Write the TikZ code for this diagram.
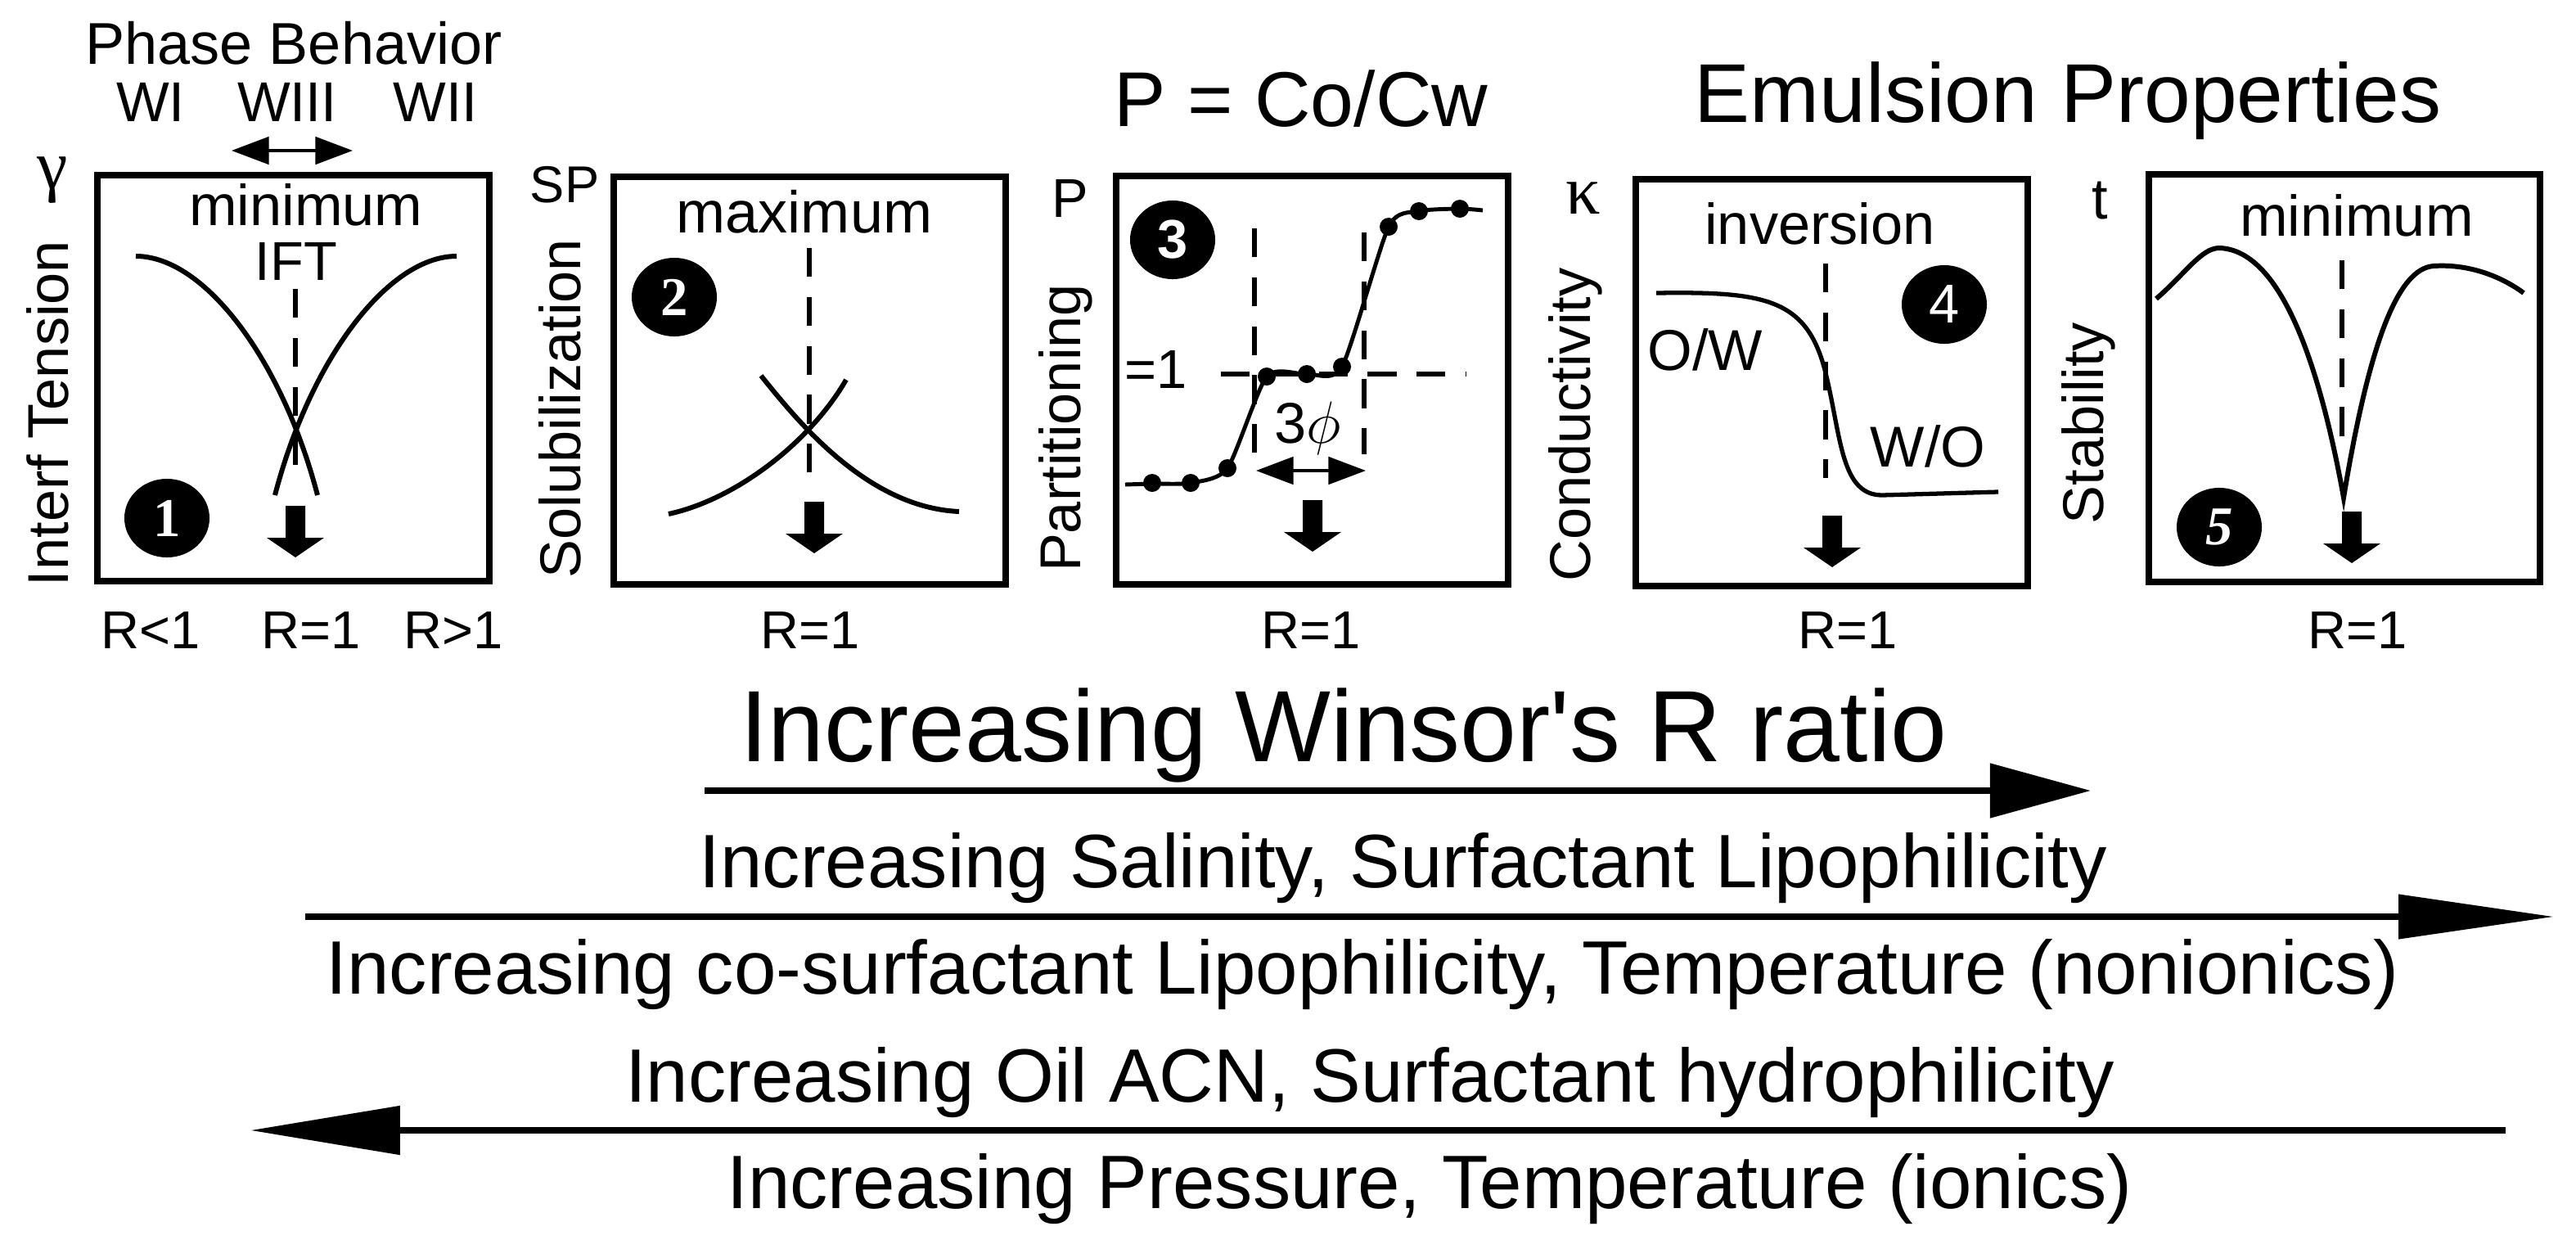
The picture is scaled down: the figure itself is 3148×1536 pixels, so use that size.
\documentclass[tikz,border=0pt]{standalone}
\usepackage{fontspec}
\setmainfont{Liberation Sans}
\newfontfamily\seriffont{Liberation Serif}
\usetikzlibrary{arrows.meta,shapes.geometric}
\tikzset{
  box/.style={line width=2.3pt},
  curve/.style={line width=1.7pt},
  dashline/.style={line width=1.9pt, dash pattern=on 10pt off 7pt},
  lbl/.style={font=\fontsize{20}{24}\selectfont, anchor=base},
  rlbl/.style={font=\fontsize{18.5}{22}\selectfont, anchor=base},
  axlbl/.style={font=\fontsize{20}{24}\selectfont, rotate=90},
  badge/.style={ellipse, fill=black, text=white, minimum width=1.04cm, minimum height=0.96cm, inner sep=0pt},
  bigtext/.style={font=\fontsize{26.3}{30}\selectfont, anchor=base},
  dbl/.style={line width=1.1pt, {Triangle[length=13pt,width=9.5pt]}-{Triangle[length=13pt,width=9.5pt]}},
  bigarrow/.style={line width=2.3pt}
}
\begin{document}
\begin{tikzpicture}[x=0.01cm,y=-0.01cm]
\useasboundingbox (0,0) rectangle (3148,1536);

\draw[box] (119,214) rectangle (598,710);
\draw[box] (750,216) rectangle (1229,714);
\draw[box] (1364,215) rectangle (1843,714);
\draw[box] (1999,219) rectangle (2478,716);
\draw[box] (2626,213) rectangle (3104,711);

% panel 1
\node[lbl, font=\fontsize{20.5}{24}\selectfont] (phase) at (359,78) {Phase Behavior};
\node[lbl, font=\fontsize{19.5}{24}\selectfont] (wone) at (184,148) {WI};
\node[lbl, font=\fontsize{19.5}{24}\selectfont] (wthree) at (351,148) {WIII};
\node[lbl, font=\fontsize{19.5}{24}\selectfont] (wtwo) at (532,148) {WII};
\coordinate (pa) at (283,184);
\coordinate (pb) at (431,184);
\draw[dbl] (pa) -- (pb);
\node[font=\seriffont\fontsize{24}{28}\selectfont] (gam) at (64,220) {γ};
\node[lbl] (minone) at (374,275) {minimum};
\node[lbl, font=\fontsize{19}{24}\selectfont] (ift) at (362,342) {IFT};
\draw[curve] (166,313) .. controls (250,313) and (345,440) .. (388,605);
\draw[curve] (558,313) .. controls (474,313) and (379,440) .. (336,605);
\draw[dashline] (361,353) -- (361,579);
\node[axlbl] (itf) at (58,505) {Interf Tension};
\node[rlbl] (rlt) at (184,792) {R<1};
\node[rlbl] (rone) at (380,792) {R=1};
\node[rlbl] (rgt) at (554,792) {R>1};

% panel 2
\node[font=\fontsize{18}{22}\selectfont] (sp) at (690,226) {SP};
\node[lbl, font=\fontsize{20.5}{24}\selectfont] (maxi) at (983,284) {maximum};
\draw[curve] (817,628) .. controls (900,610) and (990,540) .. (1034,464);
\draw[curve] (930,459) .. controls (975,515) and (1060,620) .. (1172,625);
\draw[dashline] (989,303) -- (989,596);
\node[axlbl] (sol) at (684,499) {Solubilization};

% panel 3
\node[lbl, font=\fontsize{27}{32}\selectfont] (pco) at (1590,154) {P = Co/Cw};
\node[font=\fontsize{19}{22}\selectfont] (pp) at (1308,243) {P};
\node[lbl, font=\fontsize{19}{24}\selectfont] (eqone) at (1413,474) {=1};
\draw[dashline] (1492,457) -- (1792,457);
\draw[dashline] (1533,279) -- (1533,553);
\draw[dashline] (1667,284) -- (1667,555);
\draw[line width=1.4pt] plot[smooth, tension=0.4] coordinates {(1375,592) (1408,591) (1455,590) (1500,572) (1548,460) (1597,457) (1640,448) (1697,277) (1734,258) (1784,255) (1812,257)};
\foreach \dx/\dy in {1408/590, 1455/590, 1500/572, 1548/460, 1597/457, 1640/448, 1697/277, 1734/258, 1784/255}
  \fill (\dx,\dy) circle (11);
\node[lbl] (thphi) at (1598,541) {3$\phi$};
\coordinate (ta) at (1535,575);
\coordinate (tb) at (1669,575);
\draw[dbl] (ta) -- (tb);
\node[axlbl] (par) at (1302,523) {Partitioning};

% panel 4
\node[lbl, font=\fontsize{29}{34}\selectfont] (emul) at (2527,149) {Emulsion Properties};
\node[font=\seriffont\fontsize{24}{28}\selectfont] (kap) at (1935,242) {κ};
\node[lbl] (inv) at (2224,298) {inversion};
\draw[curve, line width=1.5pt] (2024,358) .. controls (2160,356) and (2210,365) .. (2232,460)
  .. controls (2250,535) and (2250,605) .. (2300,605) -- (2442,601);
\draw[dashline] (2231,322) -- (2231,584);
\node[lbl] (ow) at (2084,452) {O/W};
\node[lbl] (wo) at (2356,570) {W/O};
\node[axlbl] (con) at (1925,519) {Conductivity};

% panel 5
\node[font=\fontsize{20}{24}\selectfont] (tt) at (2566,245) {t};
\node[lbl] (minfive) at (2880,288) {minimum};
\draw[curve] (2635,365) .. controls (2670,335) and (2690,303) .. (2712,303)
  .. controls (2780,305) and (2830,420) .. (2864,608)
  .. controls (2895,420) and (2930,328) .. (2974,325)
  .. controls (3020,322) and (3060,340) .. (3084,358);
\draw[dashline] (2862,318) -- (2862,543);
\node[axlbl] (sta) at (2552,517) {Stability};

\foreach \rx [count=\k] in {990,1602,2258,2881}
  \node[rlbl] (req\k) at (\rx,792) {R=1};

\foreach \ax/\ay in {361/618, 995/613, 1604/611, 2239/630, 2874/625}
  \fill (\ax-12,\ay) -- (\ax+12,\ay) -- (\ax+12,\ay+39) -- (\ax+35,\ay+39)
    -- (\ax,\ay+63) -- (\ax-35,\ay+39) -- (\ax-12,\ay+39) -- cycle;

\node[badge, font=\seriffont\bfseries\fontsize{19}{20}\selectfont] (n1) at (204,633) {1};
\node[badge, font=\seriffont\bfseries\fontsize{19}{20}\selectfont] (n2) at (824,363) {2};
\node[badge, font=\bfseries\fontsize{19}{20}\selectfont] (n3) at (1433,293) {3};
\node[badge, font=\fontsize{19}{20}\selectfont] (n4) at (2376,372) {4};
\node[badge, font=\seriffont\bfseries\itshape\fontsize{19}{20}\selectfont] (n5) at (2712,644) {5};

% ratio arrows
\node[bigtext, font=\fontsize{35.2}{40}\selectfont] (winsor) at (1642,930) {Increasing Winsor\textquotesingle s R ratio};
\coordinate (ra) at (861,966);
\coordinate (rb) at (2555,966);
\draw[bigarrow, -{Triangle[length=35pt,width=18.5pt]}] (ra) -- (rb);
\node[bigtext] (sal) at (1715,1084) {Increasing Salinity, Surfactant Lipophilicity};
\coordinate (sa) at (373,1120);
\coordinate (sb) at (3121,1120);
\draw[bigarrow, -{Triangle[length=54pt,width=15pt]}] (sa) -- (sb);
\node[bigtext] (cos) at (1665,1214) {Increasing co-surfactant Lipophilicity, Temperature (nonionics)};
\node[bigtext] (oil) at (1674,1346) {Increasing Oil ACN, Surfactant hydrophilicity};
\coordinate (oa) at (3062,1381);
\coordinate (ob) at (306,1381);
\draw[bigarrow, -{Triangle[length=52pt,width=16.5pt]}] (oa) -- (ob);
\node[bigtext] (pre) at (1747,1476) {Increasing Pressure, Temperature (ionics)};
\end{tikzpicture}
\end{document}
